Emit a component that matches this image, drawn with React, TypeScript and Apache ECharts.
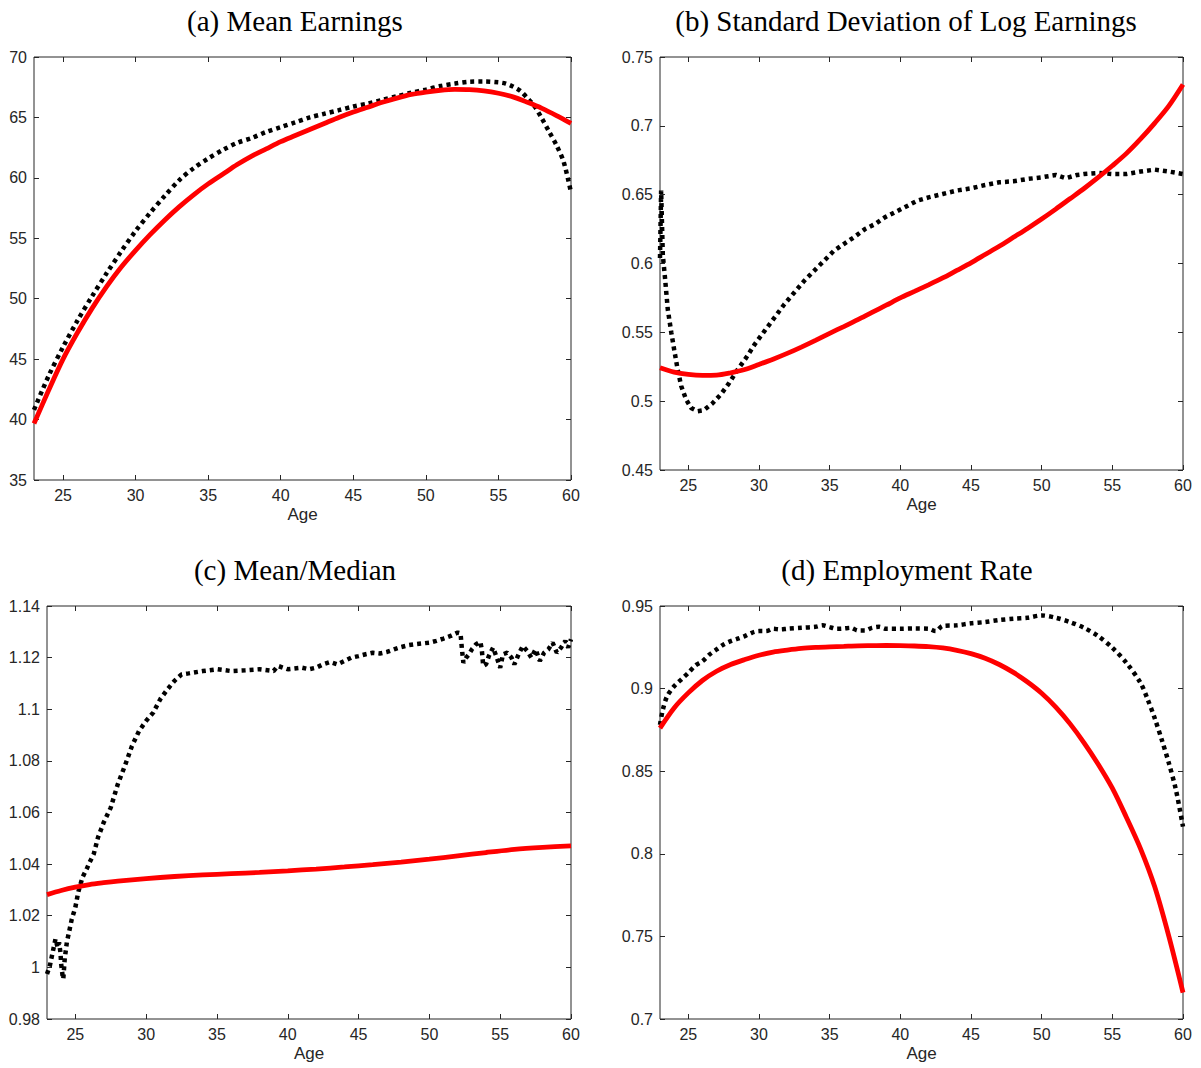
import React, { useEffect, useRef } from "react";
import * as echarts from "echarts";

// ---------- tick labels ----------
const AGE_TICKS = [25, 30, 35, 40, 45, 50, 55, 60];
const TICKS_A = [35, 40, 45, 50, 55, 60, 65, 70];
const TICKS_B = [0.45, 0.5, 0.55, 0.6, 0.65, 0.7, 0.75];
const TICKS_C = [0.98, 1, 1.02, 1.04, 1.06, 1.08, 1.1, 1.12, 1.14];
const TICKS_D = [0.7, 0.75, 0.8, 0.85, 0.9, 0.95];

const TITLES = [
  "(a) Mean Earnings",
  "(b) Standard Deviation of Log Earnings",
  "(c) Mean/Median",
  "(d) Employment Rate",
];

// ---------- (a) Mean Earnings ----------
const A_MODEL_AGE = [23, 24, 25, 26, 27, 28, 29, 30, 31, 32, 33, 34, 35, 36, 37, 38, 39, 40, 41, 42, 43, 44, 45, 46, 47, 48, 49, 50, 51, 52, 53, 54, 55, 56, 57, 58, 59, 60];
const A_MODEL_VAL = [39.67, 42.4, 45.0, 47.2, 49.2, 51.0, 52.6, 54.0, 55.3, 56.5, 57.6, 58.6, 59.5, 60.3, 61.1, 61.8, 62.4, 63.0, 63.5, 64.0, 64.5, 65.0, 65.45, 65.85, 66.25, 66.6, 66.9, 67.1, 67.25, 67.32, 67.3, 67.2, 67.0, 66.7, 66.25, 65.75, 65.15, 64.5];
const A_DATA_AGE = [23, 24, 25, 26, 27, 28, 29, 30, 31, 32, 33, 34, 35, 36, 37, 38, 39, 40, 41, 42, 43, 44, 45, 46, 47, 48, 49, 50, 51, 52, 53, 54, 55, 55.5, 56, 56.5, 57, 57.5, 58, 58.5, 59, 59.5, 60];
const A_DATA_VAL = [40.8, 43.6, 46.0, 48.2, 50.2, 52.1, 53.9, 55.6, 57.1, 58.5, 59.8, 60.8, 61.6, 62.3, 62.9, 63.3, 63.8, 64.2, 64.6, 65.0, 65.3, 65.6, 65.9, 66.15, 66.45, 66.75, 67.05, 67.3, 67.6, 67.8, 67.95, 67.97, 67.9, 67.8, 67.55, 67.2, 66.6, 65.9, 64.9, 63.8, 62.7, 61.3, 58.8];

// ---------- (b) Std of log earnings ----------
const B_MODEL_AGE = [23, 24, 25, 26, 27, 28, 29, 30, 31, 32, 33, 34, 35, 36, 37, 38, 39, 40, 41, 42, 43, 44, 45, 46, 47, 48, 49, 50, 51, 52, 53, 54, 55, 56, 57, 58, 59, 60];
const B_MODEL_VAL = [0.5243, 0.5211, 0.5194, 0.5187, 0.5189, 0.5206, 0.523, 0.5267, 0.5305, 0.5347, 0.5393, 0.5442, 0.5493, 0.5542, 0.5592, 0.5645, 0.5697, 0.575, 0.5797, 0.5845, 0.5895, 0.595, 0.6005, 0.6065, 0.6125, 0.619, 0.6255, 0.6323, 0.6395, 0.647, 0.6545, 0.6625, 0.671, 0.68, 0.6905, 0.702, 0.7145, 0.73];
const B_DATA_AGE = [23.0, 23.08, 23.2, 23.35, 23.55, 23.8, 24.0, 24.25, 24.5, 24.85, 25.2, 25.65, 26.1, 26.7, 27.3, 27.9, 28.5, 29.1, 29.7, 30.4, 31.1, 31.8, 32.5, 33.2, 33.9, 34.6, 35.3, 36.0, 36.7, 37.5, 38.2, 38.9, 39.6, 40.3, 41.2, 42, 43, 44, 45, 46, 47, 48, 49, 50, 51, 51.7, 52.5, 53, 54, 55, 56, 57, 58, 59, 60];
const B_DATA_VAL = [0.604, 0.653, 0.606, 0.59, 0.5667, 0.5498, 0.5376, 0.523, 0.511, 0.5012, 0.4951, 0.4927, 0.4934, 0.4983, 0.5049, 0.5133, 0.523, 0.5316, 0.5413, 0.551, 0.5607, 0.5704, 0.5789, 0.5874, 0.5947, 0.6019, 0.6092, 0.6141, 0.6189, 0.625, 0.6286, 0.6335, 0.6371, 0.6408, 0.6456, 0.648, 0.6505, 0.653, 0.6546, 0.657, 0.659, 0.6597, 0.6614, 0.6626, 0.6643, 0.6619, 0.6643, 0.665, 0.6658, 0.665, 0.665, 0.6668, 0.6682, 0.6668, 0.665];

// ---------- (c) Mean/Median ----------
const C_MODEL_AGE = [23, 24, 25, 26, 27, 28, 30, 32, 34, 36, 38, 40, 42, 44, 46, 48, 50, 52, 54, 56, 58, 60];
const C_MODEL_VAL = [1.0282, 1.0298, 1.0311, 1.0321, 1.0328, 1.0334, 1.0344, 1.0352, 1.0358, 1.0363, 1.0368, 1.0374, 1.0381, 1.0389, 1.0398, 1.0408, 1.0419, 1.0432, 1.0445, 1.0457, 1.0465, 1.0471];
const C_DATA_AGE = [23.0, 23.2, 23.35, 23.5, 23.6, 23.75, 23.85, 23.95, 24.0, 24.1, 24.15, 24.25, 24.4, 24.55, 24.75, 25.0, 25.2, 25.5, 25.8, 26.0, 26.3, 26.6, 27.0, 27.5, 28.0, 28.5, 29.0, 29.5, 30.0, 30.5, 31.0, 31.5, 32.0, 32.5, 33.0, 34, 35, 36, 37, 38, 39, 39.3, 40, 41, 41.5, 42, 42.5, 43, 43.5, 44, 44.5, 45, 45.5, 46, 46.5, 47, 47.5, 48, 48.5, 49, 49.5, 50, 50.5, 51, 51.5, 52, 52.2, 52.3, 52.4, 52.6, 52.8, 53.0, 53.3, 53.6, 53.7, 53.8, 54.0, 54.2, 54.5, 54.8, 55.0, 55.2, 55.5, 55.8, 56.0, 56.3, 56.6, 56.9, 57.2, 57.5, 57.8, 58.1, 58.4, 58.7, 59.0, 59.3, 59.6, 59.8, 60.0];
const C_DATA_VAL = [0.9974, 1.0006, 1.0045, 1.0084, 1.011, 1.0077, 1.0097, 1.0058, 1.0013, 0.9968, 0.9955, 1.0032, 1.0097, 1.0135, 1.0187, 1.0232, 1.029, 1.0348, 1.0381, 1.0406, 1.0439, 1.0503, 1.0561, 1.0619, 1.071, 1.0781, 1.0858, 1.0916, 1.0955, 1.0987, 1.1039, 1.1077, 1.111, 1.1135, 1.1139, 1.1148, 1.1155, 1.1148, 1.1151, 1.1155, 1.1148, 1.1168, 1.1155, 1.1161, 1.1155, 1.1161, 1.1174, 1.1183, 1.1174, 1.1187, 1.12, 1.1206, 1.1213, 1.1219, 1.1216, 1.1222, 1.1232, 1.1241, 1.1248, 1.1252, 1.1255, 1.1258, 1.1265, 1.1274, 1.1284, 1.1297, 1.1294, 1.1232, 1.118, 1.12, 1.1213, 1.1232, 1.1252, 1.1261, 1.1232, 1.1168, 1.1174, 1.1206, 1.1239, 1.1194, 1.1161, 1.1213, 1.1219, 1.12, 1.1174, 1.1213, 1.1245, 1.1226, 1.12, 1.1232, 1.1187, 1.1219, 1.1232, 1.1258, 1.1219, 1.1239, 1.1265, 1.1239, 1.1271];

// ---------- (d) Employment rate ----------
const D_MODEL_AGE = [23, 24, 25, 26, 27, 28, 29, 30, 31, 32, 33, 34, 35, 36, 37, 38, 39, 40, 41, 42, 43, 44, 45, 46, 47, 48, 49, 50, 51, 52, 53, 54, 55, 56, 57, 58, 59, 60];
const D_MODEL_VAL = [0.8761, 0.8883, 0.8974, 0.9049, 0.9105, 0.9146, 0.9176, 0.9202, 0.9221, 0.9233, 0.9243, 0.9249, 0.9253, 0.9256, 0.9259, 0.926, 0.9261, 0.926, 0.9258, 0.9254, 0.9246, 0.9232, 0.9212, 0.9184, 0.9146, 0.9098, 0.904, 0.8972, 0.8888, 0.8788, 0.8672, 0.8542, 0.8397, 0.822, 0.803, 0.780, 0.750, 0.716];
const D_DATA_AGE = [23, 23.2, 23.5, 24, 24.5, 25, 25.5, 26, 26.5, 27, 27.5, 28, 28.5, 29, 29.5, 30, 30.5, 31, 31.5, 32, 33, 34, 34.5, 35, 35.5, 36, 36.5, 37, 37.5, 38, 38.5, 39, 40, 41, 42, 42.5, 43, 44, 45, 46, 47, 48, 49, 50, 51, 52, 53, 54, 55, 56, 57, 57.5, 58, 58.5, 59, 59.5, 60];
const D_DATA_VAL = [0.8781, 0.8872, 0.8953, 0.9014, 0.9055, 0.9095, 0.914, 0.9166, 0.9206, 0.9237, 0.9267, 0.9287, 0.9302, 0.9318, 0.9338, 0.9348, 0.9348, 0.9362, 0.9358, 0.9362, 0.9368, 0.9374, 0.9383, 0.9372, 0.9362, 0.9364, 0.9368, 0.9352, 0.9352, 0.9368, 0.9374, 0.9362, 0.9362, 0.9364, 0.9362, 0.9348, 0.9379, 0.9383, 0.9395, 0.9403, 0.9415, 0.9423, 0.9429, 0.9443, 0.9429, 0.9403, 0.9368, 0.9318, 0.9247, 0.9156, 0.9034, 0.8935, 0.882, 0.869, 0.8549, 0.8387, 0.8164];

const zip = (a: number[], b: number[]) => a.map((x, i) => [x, b[i]]);

const AX = "#262626";
const SANS = "'Liberation Sans', Arial, Helvetica, sans-serif";
const SERIF = "'Liberation Serif', 'Times New Roman', serif";

const fmt = (v: number) => String(parseFloat(v.toFixed(2)));

const GRIDS = [
  { left: 34, top: 57, width: 537, height: 423 },
  { left: 660, top: 57, width: 523, height: 413 },
  { left: 47, top: 606, width: 524, height: 413 },
  { left: 660, top: 606, width: 523, height: 413 },
];

const TITLE_POS = [
  [295, 21],
  [906, 21],
  [295, 570],
  [907, 570],
];

const DATA_SMOOTH = [0.3, false, false, 0.3];

export default function App() {
  const ref = useRef<HTMLDivElement>(null);
  useEffect(() => {
    if (!ref.current) return;
    document.body.style.margin = "0";
    const chart = echarts.init(ref.current, null, { renderer: "svg" });

    const yRanges = [
      [35, 70, TICKS_A],
      [0.45, 0.75, TICKS_B],
      [0.98, 1.14, TICKS_C],
      [0.7, 0.95, TICKS_D],
    ] as [number, number, number[]][];

    const xAxes: any[] = [];
    const yAxes: any[] = [];
    GRIDS.forEach((_, g) => {
      const tick = { inside: true, length: 5, customValues: AGE_TICKS, lineStyle: { color: AX, width: 1 } };
      xAxes.push({
        gridIndex: g, type: "value", min: 23, max: 60, position: "bottom",
        axisLine: { show: false, onZero: false },
        axisTick: tick,
        axisLabel: { customValues: AGE_TICKS, color: AX, fontSize: 16, fontFamily: SANS, margin: 7 },
        splitLine: { show: false },
        name: "Age", nameLocation: "middle", nameGap: 26,
        nameTextStyle: { color: AX, fontSize: 17, fontFamily: SANS },
      });
      xAxes.push({
        gridIndex: g, type: "value", min: 23, max: 60, position: "top",
        axisLine: { show: false, onZero: false },
        axisTick: tick,
        axisLabel: { show: false },
        splitLine: { show: false },
      });
      const [mn, mx, ticks] = yRanges[g];
      const ytick = { inside: true, length: 5, customValues: ticks, lineStyle: { color: AX, width: 1 } };
      yAxes.push({
        gridIndex: g, type: "value", min: mn, max: mx, position: "left",
        axisLine: { show: false, onZero: false },
        axisTick: ytick,
        axisLabel: { customValues: ticks, color: AX, fontSize: 16, fontFamily: SANS, margin: 7, formatter: fmt },
        splitLine: { show: false },
      });
      yAxes.push({
        gridIndex: g, type: "value", min: mn, max: mx, position: "right",
        axisLine: { show: false, onZero: false },
        axisTick: ytick,
        axisLabel: { show: false },
        splitLine: { show: false },
      });
    });

    const pairs = [
      [A_MODEL_AGE, A_MODEL_VAL, A_DATA_AGE, A_DATA_VAL],
      [B_MODEL_AGE, B_MODEL_VAL, B_DATA_AGE, B_DATA_VAL],
      [C_MODEL_AGE, C_MODEL_VAL, C_DATA_AGE, C_DATA_VAL],
      [D_MODEL_AGE, D_MODEL_VAL, D_DATA_AGE, D_DATA_VAL],
    ];
    const series: any[] = [];
    pairs.forEach(([ma, mv, da, dv], g) => {
      series.push({
        type: "line", xAxisIndex: g * 2, yAxisIndex: g * 2,
        data: zip(da, dv), showSymbol: false, smooth: DATA_SMOOTH[g], z: 2,
        lineStyle: { color: "#000", width: 4.5, type: [4, 4], cap: "butt" },
      });
      series.push({
        type: "line", xAxisIndex: g * 2, yAxisIndex: g * 2,
        data: zip(ma, mv), showSymbol: false, smooth: 0.3, z: 3,
        lineStyle: { color: "#ff0000", width: 4.8 },
      });
    });

    chart.setOption({
      animation: false,
      backgroundColor: "#fff",
      grid: GRIDS.map((gr) => ({ ...gr, show: true, borderColor: AX, borderWidth: 1, backgroundColor: "transparent", containLabel: false })),
      xAxis: xAxes,
      yAxis: yAxes,
      series,
      graphic: TITLES.map((t, i) => ({
        type: "text", x: TITLE_POS[i][0], y: TITLE_POS[i][1],
        style: { text: t, align: "center", verticalAlign: "middle", fill: "#000", font: `29px ${SERIF}` },
      })),
    });
    return () => chart.dispose();
  }, []);
  return <div ref={ref} style={{ position: "absolute", left: 0, top: 0, width: 1201, height: 1068 }} />;
}
